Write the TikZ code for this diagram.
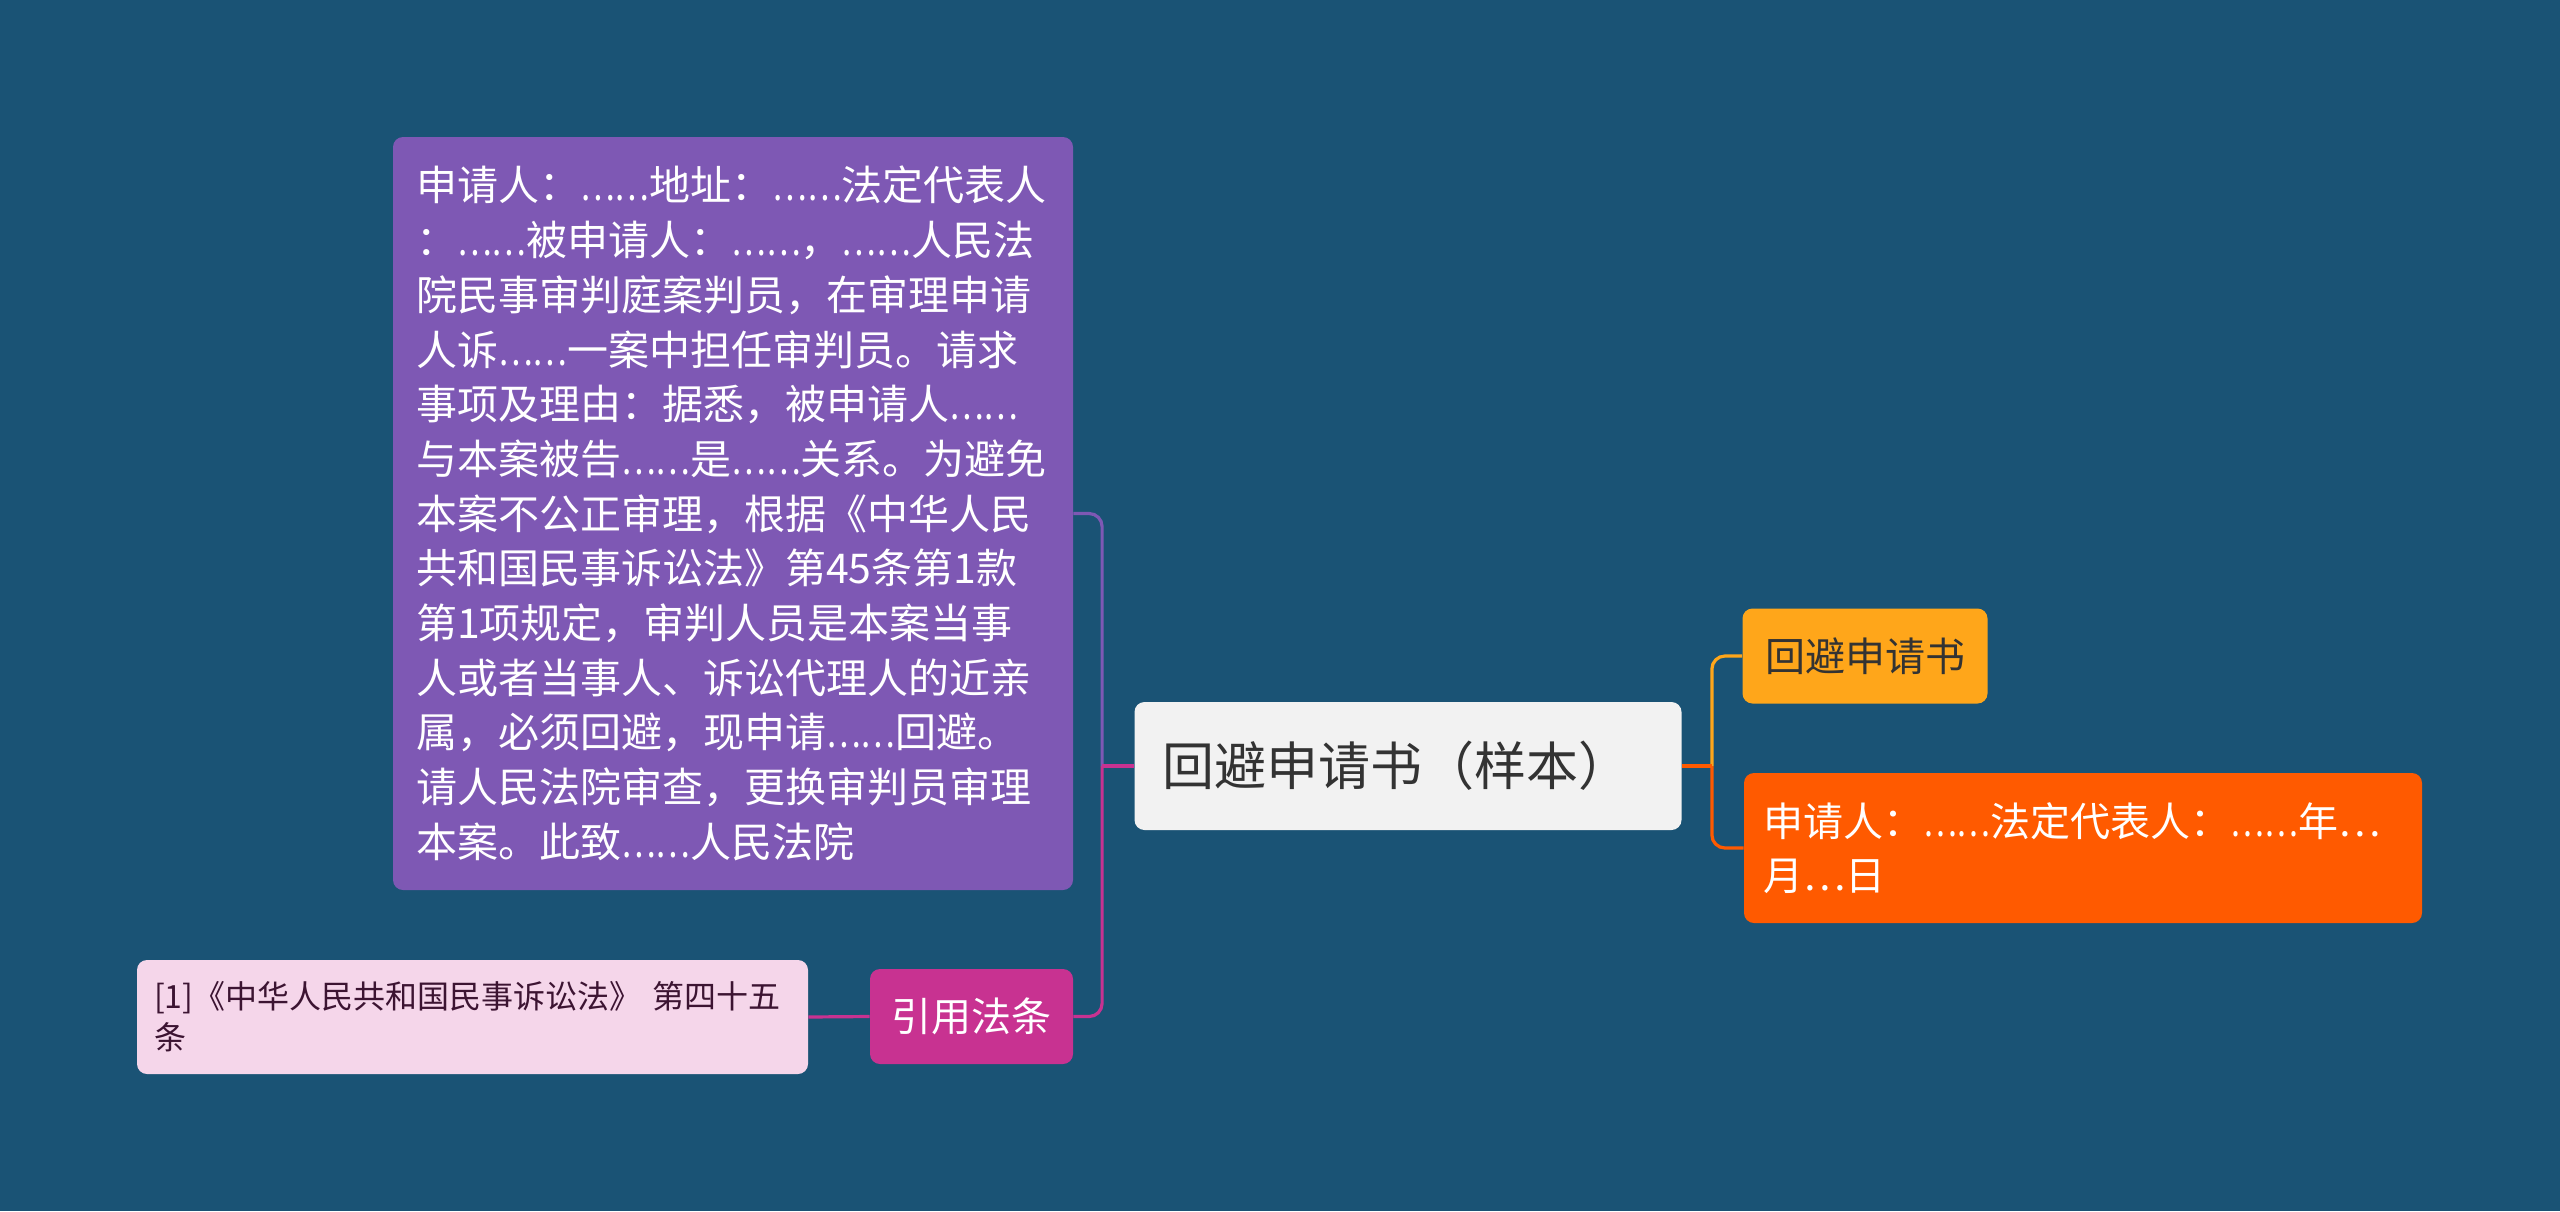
\documentclass[tikz,border=0pt]{standalone}
\usepackage{fontspec}
\setmainfont{Noto Sans CJK SC}
\definecolor{bgblue}{RGB}{26,83,117}
\definecolor{boxpurple}{RGB}{126,88,180}
\definecolor{rootgray}{RGB}{242,242,242}
\definecolor{boxyellow}{RGB}{255,166,26}
\definecolor{boxorange}{RGB}{255,90,0}
\definecolor{boxmagenta}{RGB}{200,50,145}
\definecolor{leafpink}{RGB}{245,214,234}
\definecolor{textdark}{RGB}{51,51,51}
\definecolor{leaftext}{RGB}{60,20,50}
\newcommand\ellip{\scalebox{0.8}[1]{……}}
\begin{document}
\begin{tikzpicture}[x=0.5pt,y=-0.5pt,
  card/.style={rounded corners=5pt, inner ysep=0pt, anchor=center},
  branch/.style={line width=1.6pt, rounded corners=6.5pt}]
  \fill[bgblue] (0,0) rectangle (2560,1211);
  \useasboundingbox (0,0) rectangle (2560,1211);

  % root and right side
  \node[card, fill=rootgray, text=textdark, minimum width=273.5pt, minimum height=64pt,
    inner xsep=14pt, text width=245.5pt, align=left,
    font=\fontsize{26}{32}\selectfont] (root) at (1408,766) {回避申请书（样本）};
  \node[card, fill=boxyellow, text=textdark, minimum width=122.5pt, minimum height=47.5pt,
    inner xsep=0pt, font=\fontsize{20}{27}\selectfont] (title) at (1865,656) {回避申请书};
  \node[card, fill=boxorange, text=white, minimum width=339pt, minimum height=75pt,
    inner xsep=9.5pt, text width=320pt, align=left,
    font=\fontsize{20}{27}\selectfont] (sign) at (2083,848)
    {申请人：\ellip 法定代表人：\ellip 年…\\月…日};

  % left side
  \node[card, fill=boxpurple, text=white, minimum width=340pt, minimum height=376.5pt,
    inner xsep=11.5pt, text width=317pt, align=left,
    font=\fontsize{20.5}{27.35}\selectfont] (detail) at (733,513.5)
    {申请人：\ellip 地址：\ellip 法定代表人\\
     ：\ellip 被申请人：\ellip ，\ellip 人民法\\
     院民事审判庭案判员，在审理申请\\
     人诉\ellip 一案中担任审判员。请求\\
     事项及理由：据悉，被申请人\ellip\\
     与本案被告\ellip 是\ellip 关系。为避免\\
     本案不公正审理，根据《中华人民\\
     共和国民事诉讼法》第45条第1款\\
     第1项规定，审判人员是本案当事\\
     人或者当事人、诉讼代理人的近亲\\
     属，必须回避，现申请\ellip 回避。\\
     请人民法院审查，更换审判员审理\\
     本案。此致\ellip 人民法院};
  \node[card, fill=boxmagenta, text=white, minimum width=101.5pt, minimum height=47.5pt,
    inner xsep=0pt, font=\fontsize{20}{27}\selectfont] (law) at (971.5,1016.5) {引用法条};
  \node[card, fill=leafpink, text=leaftext, minimum width=335.5pt, minimum height=57pt,
    inner xsep=8.5pt, text width=318.5pt, align=left,
    font=\fontsize{16}{20.5}\selectfont] (leaf) at (472.5,1017)
    {[1]《中华人民共和国民事诉讼法》 第四十五\\条};

  % connectors
  \coordinate (lj) at ([xshift=-16pt]root.west);
  \coordinate (rj) at ([xshift=15pt]root.east);
  \draw[branch, boxpurple] (lj) |- (detail.east);
  \draw[branch, boxmagenta] (lj) |- (law.east);
  \draw[branch, boxmagenta] (root.west) -- (lj);
  \draw[branch, boxyellow] (rj) |- (title.west);
  \draw[branch, boxorange] (rj) |- (sign.west);
  \draw[branch, boxorange] (root.east) -- (rj);
  \draw[branch, boxmagenta] (leaf.east) -- (law.west);
\end{tikzpicture}
\end{document}
